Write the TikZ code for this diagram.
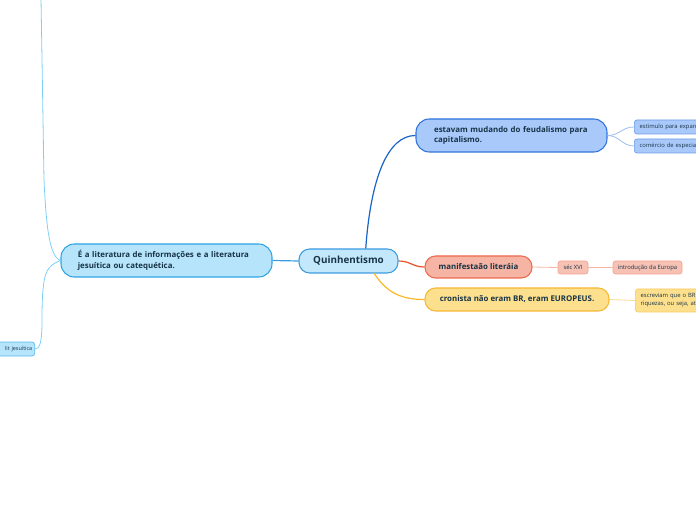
\documentclass[tikz,border=0pt]{standalone}
\usepackage{fontspec}
\setmainfont{Open Sans}
\definecolor{txt}{HTML}{173346}
\definecolor{qfill}{HTML}{C4E8FB}\definecolor{qdraw}{HTML}{3B9BE0}
\definecolor{lfill}{HTML}{B6E4FA}\definecolor{ldraw}{HTML}{2DA3E3}
\definecolor{tfill}{HTML}{A9C9FB}\definecolor{tdraw}{HTML}{2E73DA}
\definecolor{mfill}{HTML}{F6B4A4}\definecolor{mdraw}{HTML}{EC6A4D}
\definecolor{cfill}{HTML}{FDE08E}\definecolor{cdraw}{HTML}{F7B733}
\definecolor{sbdraw}{HTML}{6B9BE6}
\definecolor{srfill}{HTML}{F7C1B4}\definecolor{srdraw}{HTML}{F3A390}
\definecolor{syfill}{HTML}{FDE08E}\definecolor{sydraw}{HTML}{F8C95E}
\definecolor{sldraw}{HTML}{5BBAEA}
\definecolor{cblue}{HTML}{1A63C8}\definecolor{cred}{HTML}{E8532B}\definecolor{cyel}{HTML}{F9B82A}
\definecolor{clight}{HTML}{7FD0F5}\definecolor{cbl2}{HTML}{9DBCF0}
\definecolor{cred2}{HTML}{F6B3A3}\definecolor{cyel2}{HTML}{FBD98A}
\tikzset{
  big/.style={draw, line width=0.8pt, rounded corners=10pt, text=txt, font=\bfseries\fontsize{5.9}{8}\selectfont, inner sep=0pt},
  small/.style={draw, line width=0.5pt, rounded corners=2pt, text=txt, font=\fontsize{4.4}{6}\selectfont, inner sep=0pt},
  conn/.style={line width=0.9pt},
  thin/.style={line width=0.6pt}
}
\begin{document}
\begin{tikzpicture}[x=0.75pt,y=-0.75pt]
\useasboundingbox (0,0) rectangle (696,520);
\clip (0,0) rectangle (696,520);
% main nodes
\node[big, fill=qfill, draw=qdraw, minimum width=74.25pt, minimum height=18pt, font=\bfseries\fontsize{7.4}{9}\selectfont, rounded corners=8pt] (q) at (348.5,261) {Quinhentismo};
\node[big, fill=lfill, draw=ldraw, minimum width=158.25pt, minimum height=24.75pt, text width=133pt, align=left] (l) at (166.5,260.5) {É a literatura de informações e a literatura\\jesuítica ou catequética.};
\node[big, fill=tfill, draw=tdraw, minimum width=143.25pt, minimum height=24.75pt, text width=116pt, align=left] (t) at (511.5,135.5) {estavam mudando do feudalismo para\\capitalismo.};
\node[big, fill=mfill, draw=mdraw, minimum width=80.25pt, minimum height=16.5pt, rounded corners=8pt] (m) at (478.5,267) {manifestaão literáia};
\node[big, fill=cfill, draw=cdraw, minimum width=138pt, minimum height=17.25pt, rounded corners=8pt] (c) at (517,299.5) {cronista não eram BR, eram EUROPEUS.};
% small nodes
\node[small, fill=tfill, draw=sbdraw, anchor=west, minimum width=70pt, minimum height=10.5pt, text width=62pt, align=left] (s1) at (634,127) {estimulo para expan};
\node[small, fill=tfill, draw=sbdraw, anchor=west, minimum width=70pt, minimum height=10.5pt, text width=62pt, align=left] (s2) at (634,146) {comércio de especia};
\node[small, fill=srfill, draw=srdraw, minimum width=22.5pt, minimum height=9.75pt] (s3) at (573,267.5) {séc XVI};
\node[small, fill=srfill, draw=srdraw, minimum width=51.75pt, minimum height=9.75pt] (s4) at (647.5,267.5) {introdução da Europa};
\node[small, fill=syfill, draw=sydraw, anchor=west, minimum width=70pt, minimum height=17.25pt, text width=62pt, align=left] (s5) at (635,300.5) {escreviam que o BR\\riquezas, ou seja, at};
\node[small, fill=lfill, draw=sldraw, anchor=east, minimum height=10.5pt, inner xsep=1.8pt, text width=29pt, align=right, font=\fontsize{4.1}{6}\selectfont] (s6) at (35,349) {lit jesuítica};
\coordinate (top) at (41,-2);
% connectors
\draw[conn, cblue] (q.36) .. controls +(5,-70) and +(-28,0) .. (t.west);
\draw[conn, cred] (q.east) .. controls +(12,0) and +(-12,0) .. (m.west);
\draw[conn, cyel] (q.-26) .. controls +(12,18) and +(-25,0) .. (c.west);
\draw[conn, qdraw] (q.west) -- (l.east);
\draw[thin, clight] (l.west) .. controls +(-12,-4) and +(2,40) .. (44,180) -- (top);
\draw[thin, clight] (l.west) .. controls +(-14,6) and +(0,-50) .. (42,320) .. controls +(0,22) and +(5,0) .. (s6.east);
\draw[thin, cbl2] (t.east) .. controls +(12,0) and +(-12,0) .. (s1.west);
\draw[thin, cbl2] (t.east) .. controls +(12,0) and +(-12,0) .. (s2.west);
\draw[thin, cred2] (m.east) -- (s3.west);
\draw[thin, cred2] (s3.east) -- (s4.west);
\draw[thin, cyel2] (c.east) -- (s5.west);
\end{tikzpicture}
\end{document}
